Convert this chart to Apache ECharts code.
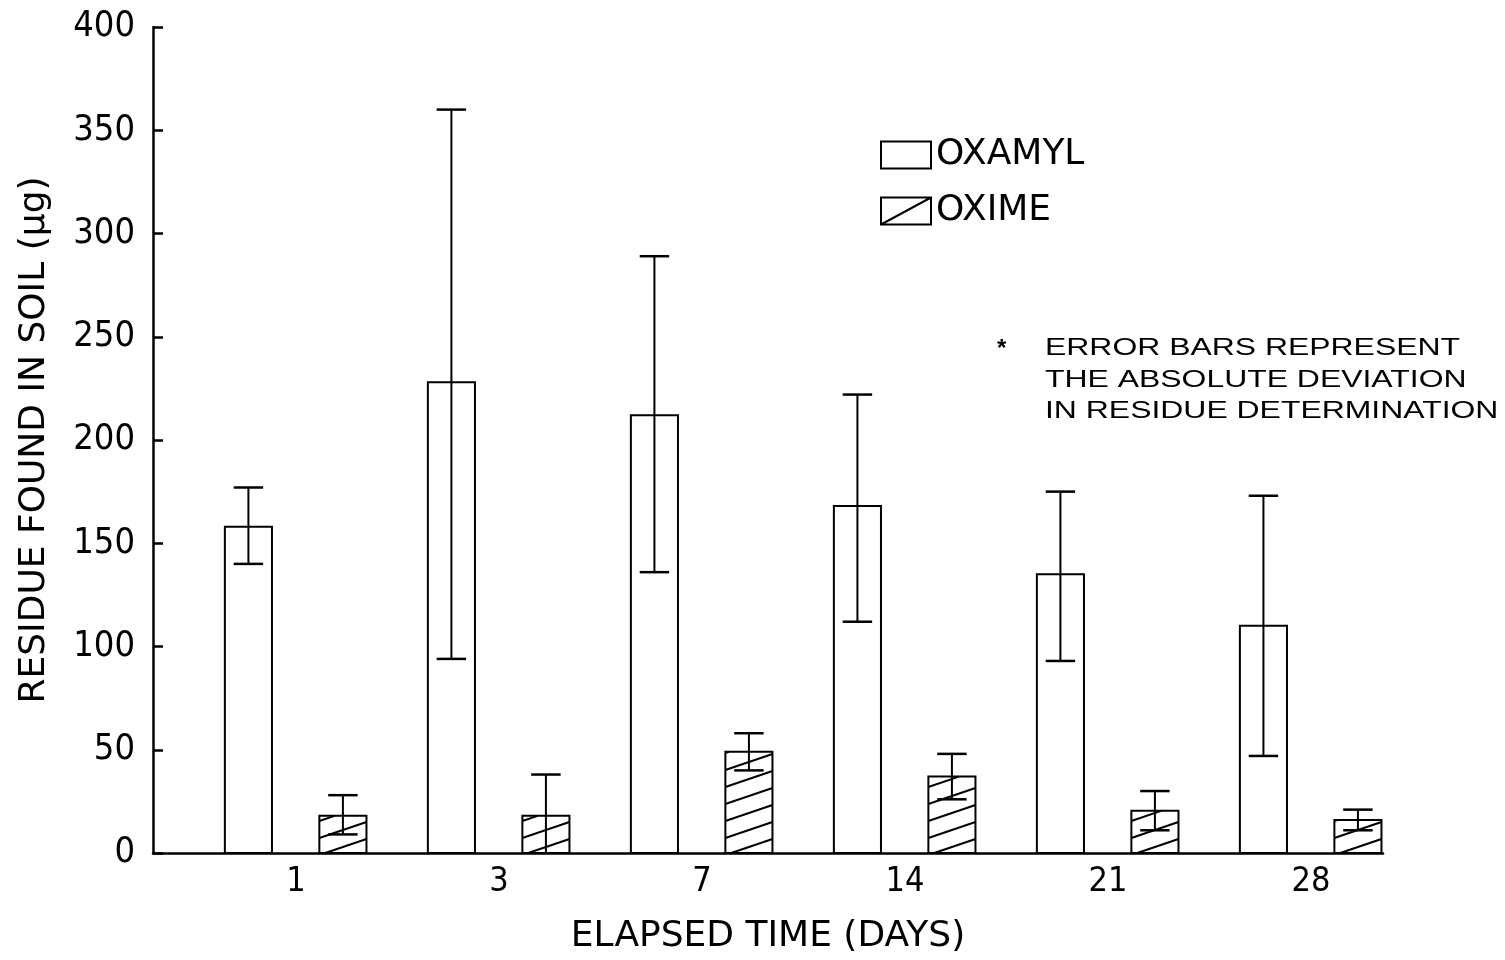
<!DOCTYPE html>
<html>
<head>
<meta charset="utf-8">
<script src="https://cdn.jsdelivr.net/npm/echarts@6/dist/echarts.min.js"></script>
<style>
html,body{margin:0;padding:0;background:#fff;}
#chart{width:1505px;height:960px;}
</style>
</head>
<body>
<div id="chart"></div>
<script>
// ---- data ----
const categories = ['1', '3', '7', '14', '21', '28'];
const oxamyl     = [158, 228, 212, 168, 135, 110];
const oxamylLow  = [140,  94, 136, 112,  93,  47];
const oxamylHigh = [177, 360, 289, 222, 175, 173];
const oxime      = [18, 18, 49, 37, 20.5, 16];
const oximeLow   = [ 9, -2, 40, 26, 11, 11];
const oximeHigh  = [28, 38, 58, 48, 30, 21];
const yTicks = [0, 50, 100, 150, 200, 250, 300, 350, 400];

const FONT = '"DejaVu Sans Condensed", "Liberation Sans Narrow", sans-serif';
const FONT_WIDE = '"DejaVu Sans", sans-serif';

function buildData(vals, lows, highs) {
  return vals.map((v, i) => [i, v, lows[i], highs[i]]);
}

function makeRender(offset, hatched) {
  return function (params, api) {
    const i = api.value(0), v = api.value(1), lo = api.value(2), hi = api.value(3);
    const band = api.size([1, 0])[0];
    const w = band * 0.232;
    const cx = api.coord([i, 0])[0] + offset * band;
    const xl = cx - w / 2, xr = cx + w / 2;
    const y0 = api.coord([i, 0])[1];
    const yTop = api.coord([i, v])[1];
    const yHi = api.coord([i, hi])[1];
    const yLo = api.coord([i, Math.max(lo, 0)])[1];
    const capW = band * 0.145;
    const children = [];
    children.push({
      type: 'rect',
      shape: { x: xl, y: yTop, width: w, height: y0 - yTop },
      style: { fill: '#fff', stroke: '#000', lineWidth: 2 }
    });
    if (hatched) {
      const rise = w * 0.34, spacing = 17;
      for (let yk = y0 + 2; yk > yTop; yk -= spacing) {
        let xa = xl + (yk - y0) * w / rise;
        let xb = xl + (yk - yTop) * w / rise;
        xa = Math.max(xa, xl); xb = Math.min(xb, xr);
        if (xb - xa > 1) {
          const ya = yk - rise * (xa - xl) / w;
          const yb = yk - rise * (xb - xl) / w;
          children.push({
            type: 'line',
            shape: { x1: xa, y1: ya, x2: xb, y2: yb },
            style: { stroke: '#000', lineWidth: 2 }
          });
        }
      }
    }
    // error bar
    children.push({
      type: 'line',
      shape: { x1: cx, y1: yHi, x2: cx, y2: yLo },
      style: { stroke: '#000', lineWidth: 2 }
    });
    children.push({
      type: 'line',
      shape: { x1: cx - capW / 2, y1: yHi, x2: cx + capW / 2, y2: yHi },
      style: { stroke: '#000', lineWidth: 2.5 }
    });
    if (lo > 0) {
      children.push({
        type: 'line',
        shape: { x1: cx - capW / 2, y1: yLo, x2: cx + capW / 2, y2: yLo },
        style: { stroke: '#000', lineWidth: 2.5 }
      });
    }
    return { type: 'group', children: children };
  };
}

const chart = echarts.init(document.getElementById('chart'), null, { renderer: 'canvas' });

const option = {
  backgroundColor: '#fff',
  animation: false,
  grid: { left: 153, right: 122, top: 27, bottom: 100, containLabel: false },
  xAxis: {
    type: 'value',
    min: -0.704,
    max: 5.355,
    axisLine: { show: true, onZero: false, lineStyle: { color: '#000', width: 2.5 } },
    axisTick: { show: false },
    splitLine: { show: false },
    axisLabel: {
      customValues: categories.map((c, i) => i),
      formatter: function (v) { return categories[Math.round(v)]; },
      color: '#000', fontFamily: FONT, fontSize: 34, margin: 12
    },
    name: 'ELAPSED TIME (DAYS)',
    nameLocation: 'middle',
    nameGap: 66,
    nameTextStyle: { color: '#000', fontFamily: FONT_WIDE, fontSize: 36 }
  },
  yAxis: {
    type: 'value',
    min: 0,
    max: 400,
    interval: 50,
    axisLine: { show: true, onZero: false, lineStyle: { color: '#000', width: 2.5 } },
    axisTick: { show: true, inside: true, length: 10, lineStyle: { color: '#000', width: 2.5 } },
    splitLine: { show: false },
    axisLabel: {
      color: '#000', fontFamily: FONT, fontSize: 36, margin: 18,
      formatter: function (v) { return yTicks.indexOf(v) >= 0 ? String(v) : ''; }
    },
    name: 'RESIDUE FOUND IN SOIL (µg)',
    nameLocation: 'middle',
    nameGap: 100,
    nameTextStyle: { color: '#000', fontFamily: FONT_WIDE, fontSize: 36 }
  },
  legend: {
    orient: 'vertical',
    left: 875,
    top: 132,
    itemWidth: 50,
    itemHeight: 27,
    itemGap: 20,
    textStyle: { color: '#000', fontFamily: FONT_WIDE, fontSize: 36, lineHeight: 36 },
    data: [
      { name: 'OXAMYL', icon: 'rect',
        itemStyle: { color: '#fff', borderColor: '#000', borderWidth: 2 } },
      { name: 'OXIME', icon: 'path://M0,0H50V27H0Z M0,27L50,0',
        itemStyle: { color: '#fff', borderColor: '#000', borderWidth: 2 } }
    ]
  },
  graphic: [
    { type: 'text', left: 997, top: 337,
      style: { text: '*', fill: '#000', font: 'bold 24px "Liberation Sans", sans-serif' } },
    { type: 'group', left: 1045, top: 336, children: [
      { type: 'text', x: 0, y: 0, scaleX: 1.33,
        style: { text: 'ERROR BARS REPRESENT', fill: '#000', font: '24px "Liberation Sans", sans-serif' } },
      { type: 'text', x: 0, y: 32, scaleX: 1.33,
        style: { text: 'THE ABSOLUTE DEVIATION', fill: '#000', font: '24px "Liberation Sans", sans-serif' } },
      { type: 'text', x: 0, y: 63, scaleX: 1.33,
        style: { text: 'IN RESIDUE DETERMINATION', fill: '#000', font: '24px "Liberation Sans", sans-serif' } }
    ]}
  ],
  series: [
    {
      name: 'OXAMYL',
      type: 'custom',
      renderItem: makeRender(-0.234, false),
      itemStyle: { color: '#fff', borderColor: '#000', borderWidth: 2 },
      encode: { x: 0, y: [1, 2, 3] },
      data: buildData(oxamyl, oxamylLow, oxamylHigh)
    },
    {
      name: 'OXIME',
      type: 'custom',
      renderItem: makeRender(0.2315, true),
      itemStyle: { color: '#fff', borderColor: '#000', borderWidth: 2 },
      encode: { x: 0, y: [1, 2, 3] },
      data: buildData(oxime, oximeLow, oximeHigh)
    }
  ]
};
chart.setOption(option);
</script>
</body>
</html>
